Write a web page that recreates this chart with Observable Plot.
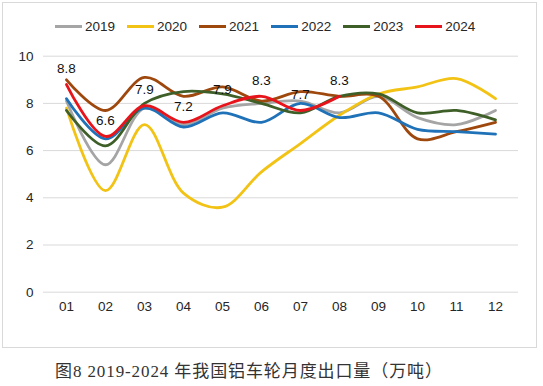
<!DOCTYPE html>
<html>
<head>
<meta charset="utf-8">
<script src="https://cdn.jsdelivr.net/npm/d3@7"></script>
<script src="https://cdn.jsdelivr.net/npm/@observablehq/plot@0.6"></script>
<style>
  html, body { margin: 0; padding: 0; background: #fff; }
  body { width: 543px; height: 386px; overflow: hidden; font-family: "Liberation Sans", Arial, sans-serif; }
  #frame { position: relative; margin: 2px 0 0 2px; width: 533px; height: 344px; border: 1px solid #d9d9d9; }
  #legend { height: 40px; display: flex; align-items: center; padding-left: 52px; padding-top: 6px; box-sizing: border-box; font-size: 13.5px; color: #262626; }
  .item { display: flex; align-items: center; margin-right: 12px; }
  .sw { width: 27px; height: 3px; margin-right: 3px; }
  #caption { margin-top: 13px; padding-left: 55px; font-size: 17px; line-height: 22px; letter-spacing: 0.9px; color: #333; font-family: "Liberation Serif", "Noto Sans CJK SC", serif; white-space: nowrap; }
</style>
</head>
<body>
<div id="frame">
  <div id="legend"></div>
  <div id="chart"></div>
</div>
<div id="caption">图8 2019-2024 年我国铝车轮月度出口量（万吨）</div>
<script>
const months = ["01","02","03","04","05","06","07","08","09","10","11","12"];
const years = ["2019","2020","2021","2022","2023","2024"];
const colors = ["#A5A5A5","#F2C314","#9E480E","#1F72B8","#3E5F27","#E8141C"];
const v2019 = [8.1, 5.4, 7.8, 7.1, 7.8, 8.0, 8.1, 7.6, 8.3, 7.4, 7.1, 7.7];
const v2020 = [7.8, 4.3, 7.1, 4.2, 3.6, 5.1, 6.3, 7.5, 8.4, 8.7, 9.05, 8.2];
const v2021 = [9.0, 7.7, 9.1, 8.3, 8.7, 8.1, 8.5, 8.3, 8.3, 6.5, 6.8, 7.2];
const v2022 = [8.2, 6.5, 7.8, 7.0, 7.6, 7.2, 8.0, 7.4, 7.6, 6.9, 6.8, 6.7];
const v2023 = [7.7, 6.2, 8.0, 8.5, 8.4, 8.0, 7.6, 8.3, 8.4, 7.6, 7.7, 7.3];
const v2024 = [8.8, 6.6, 7.9, 7.2, 7.9, 8.3, 7.7, 8.3];
const yTicks = [0, 2, 4, 6, 8, 10];

const seriesValues = [v2019, v2020, v2021, v2022, v2023, v2024];
const rows = [];
seriesValues.forEach((vals, i) => vals.forEach((v, j) => rows.push({year: years[i], month: months[j], value: v})));
const labels = rows.filter(d => d.year === "2024");

// legend
const legend = document.getElementById("legend");
years.forEach((y, i) => {
  const it = document.createElement("div");
  it.className = "item";
  it.innerHTML = `<span class="sw" style="background:${colors[i]}"></span><span>${y}</span>`;
  legend.appendChild(it);
});

const chart = Plot.plot({
  width: 533,
  height: 305,
  marginLeft: 40,
  marginRight: 18,
  marginTop: 12.7,
  marginBottom: 56.3,
  style: {fontFamily: "'Liberation Sans', Arial, sans-serif", fontSize: "13px", color: "#262626", background: "transparent"},
  x: {type: "point", domain: months, padding: 0.5},
  y: {domain: [0, 10]},
  color: {domain: years, range: colors},
  marks: [
    Plot.gridY(yTicks, {stroke: "#d9d9d9", strokeOpacity: 1, strokeWidth: 1}),
    Plot.axisY(yTicks, {tickSize: 0, tickPadding: 10, label: null, fontSize: 13.5}),
    Plot.axisX(months, {tickSize: 0, tickPadding: 9, label: null, fontSize: 13.5}),
    Plot.line(rows, {x: "month", y: "value", z: "year", stroke: "year", strokeWidth: 2.8, curve: "catmull-rom"}),
    Plot.text(labels, {x: "month", y: "value", text: d => d.value.toFixed(1), dy: -16, fill: "#111", fontSize: 13.5})
  ]
});
document.getElementById("chart").appendChild(chart);
</script>
</body>
</html>
